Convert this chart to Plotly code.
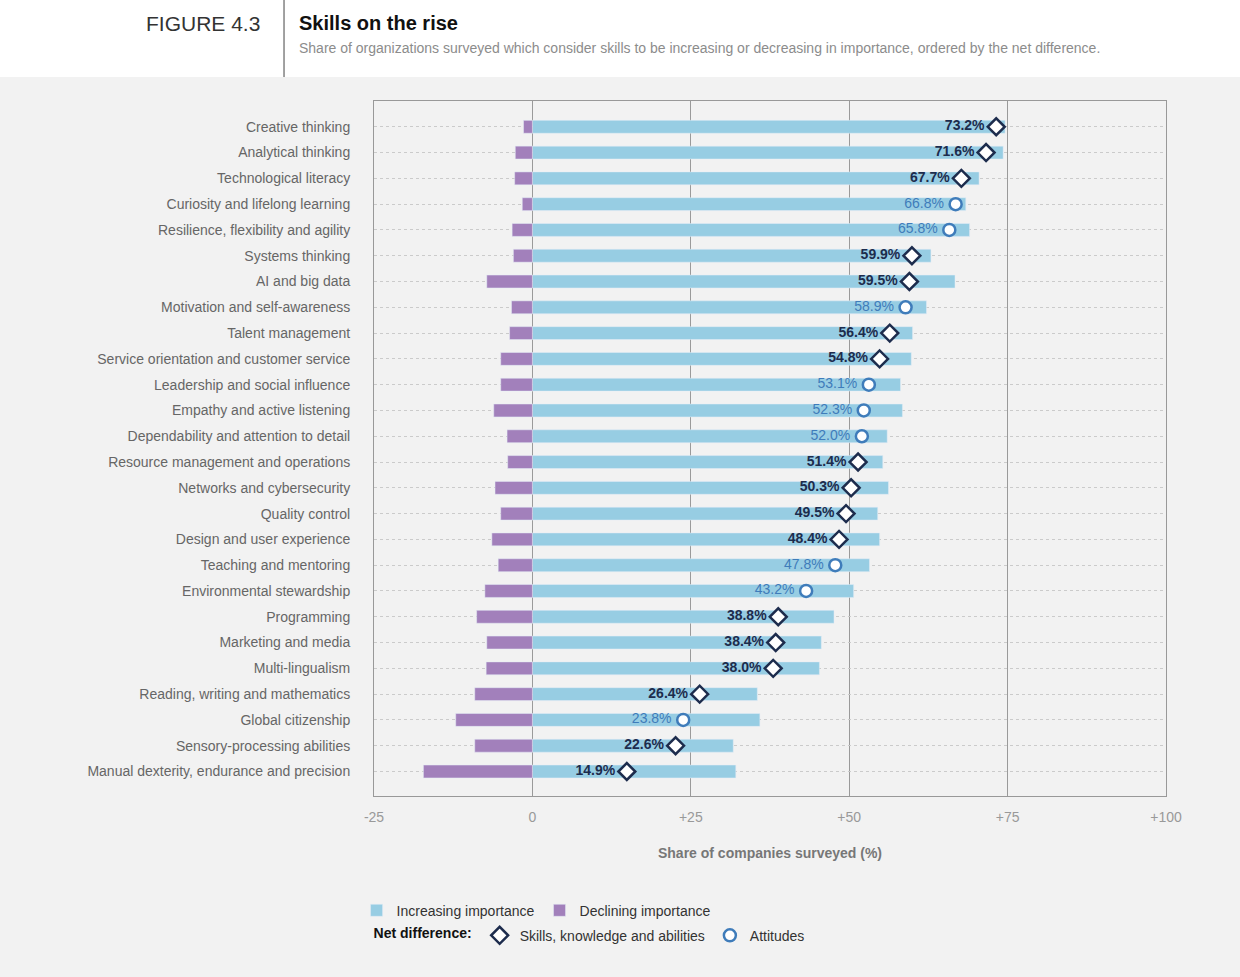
import plotly.graph_objects as go

# Data
skills = [
    "Creative thinking", "Analytical thinking", "Technological literacy",
    "Curiosity and lifelong learning", "Resilience, flexibility and agility",
    "Systems thinking", "AI and big data", "Motivation and self-awareness",
    "Talent management", "Service orientation and customer service",
    "Leadership and social influence", "Empathy and active listening",
    "Dependability and attention to detail", "Resource management and operations",
    "Networks and cybersecurity", "Quality control", "Design and user experience",
    "Teaching and mentoring", "Environmental stewardship", "Programming",
    "Marketing and media", "Multi-lingualism", "Reading, writing and mathematics",
    "Global citizenship", "Sensory-processing abilities",
    "Manual dexterity, endurance and precision",
]
increasing = [74.6, 74.3, 70.5, 68.4, 69.0, 62.9, 66.7, 62.2, 60.0, 59.8,
              58.1, 58.4, 56.0, 55.3, 56.2, 54.5, 54.8, 53.2, 50.7, 47.6,
              45.6, 45.3, 35.5, 35.9, 31.7, 32.1]
declining = [1.4, 2.7, 2.8, 1.6, 3.2, 3.0, 7.2, 3.3, 3.6, 5.0,
             5.0, 6.1, 4.0, 3.9, 5.9, 5.0, 6.4, 5.4, 7.5, 8.8,
             7.2, 7.3, 9.1, 12.1, 9.1, 17.2]
net_diff = [73.2, 71.6, 67.7, 66.8, 65.8, 59.9, 59.5, 58.9, 56.4, 54.8,
            53.1, 52.3, 52.0, 51.4, 50.3, 49.5, 48.4, 47.8, 43.2, 38.8,
            38.4, 38.0, 26.4, 23.8, 22.6, 14.9]
skill_type = ["S", "S", "S", "A", "A", "S", "S", "A", "S", "S",
              "A", "A", "A", "S", "S", "S", "S", "A", "A", "S",
              "S", "S", "S", "A", "S", "S"]
tick_vals = [-25, 0, 25, 50, 75, 100]
tick_text = ["-25", "0", "+25", "+50", "+75", "+100"]

FONT = "Liberation Sans, Arial, sans-serif"
BLUE_BAR = "#97cde3"
PURPLE_BAR = "#a280bb"
NAVY = "#1d2c4d"
MID_BLUE = "#3f7cba"

fig = go.Figure()

fig.add_trace(go.Bar(
    y=skills, x=increasing, orientation="h", name="Increasing importance",
    marker_color=BLUE_BAR, legend="legend", hoverinfo="skip",
))
fig.add_trace(go.Bar(
    y=skills, x=[-d for d in declining], orientation="h", name="Declining importance",
    marker_color=PURPLE_BAR, legend="legend", hoverinfo="skip",
))

groups = [("S", "Skills, knowledge and abilities", "diamond", NAVY, "bold"),
          ("A", "Attitudes", "circle", MID_BLUE, "normal")]
for code, label, symbol, col, weight in groups:
    ys = [s for s, t in zip(skills, skill_type) if t == code]
    xs = [v for v, t in zip(net_diff, skill_type) if t == code]
    # value labels; an invisible wide marker pushes the text away from the symbol
    fig.add_trace(go.Scatter(
        y=ys, x=xs, mode="markers+text", text=[f"{v:.1f}%" for v in xs],
        textposition="middle left",
        textfont=dict(family=FONT, size=14, color=col, weight=weight),
        marker=dict(size=17, color="rgba(0,0,0,0)", line=dict(width=0)),
        showlegend=False, hoverinfo="skip",
    ))
    fig.add_trace(go.Scatter(
        y=ys, x=xs, mode="markers", name=label, legend="legend2",
        marker=dict(symbol=symbol, size=13 if symbol == "diamond" else 12,
                    color="white", line=dict(color=col, width=2.5)),
        hoverinfo="skip",
    ))

# header band
fig.add_shape(type="rect", xref="paper", yref="paper",
              x0=-0.48, x1=1.1, y0=1.0345, y1=1.16,
              fillcolor="white", line_width=0, layer="below")
fig.add_shape(type="line", xref="paper", yref="paper",
              x0=-0.1136, x1=-0.1136, y0=1.0345, y1=1.16,
              line=dict(color="#444", width=1))

fig.add_annotation(text="FIGURE 4.3", xref="paper", yref="paper",
                   x=-0.1414, y=1.1122, xanchor="right", yanchor="middle",
                   showarrow=False, font=dict(family=FONT, size=21, color="#333"))
fig.add_annotation(text="<b>Skills on the rise</b>", xref="paper", yref="paper",
                   x=-0.0972, y=1.1122, xanchor="left", yanchor="middle",
                   showarrow=False, font=dict(family=FONT, size=20, color="#111"))
fig.add_annotation(text="Share of organizations surveyed which consider skills to be increasing "
                        "or decreasing in importance, ordered by the net difference.",
                   xref="paper", yref="paper", x=-0.0972, y=1.0763,
                   xanchor="left", yanchor="middle", showarrow=False,
                   font=dict(family=FONT, size=14, color="#8c8c8c"))

fig.update_layout(
    width=1240, height=977,
    margin=dict(l=374, r=74, t=101, b=181),
    paper_bgcolor="#f2f2f2", plot_bgcolor="#f2f2f2",
    barmode="overlay", bargap=0.5,
    font=dict(family=FONT, size=14, color="#666"),
    xaxis=dict(
        range=[-25, 100], tickvals=tick_vals, ticktext=tick_text,
        showgrid=True, gridcolor="#9a9a9a", gridwidth=1, zeroline=False,
        showline=True, mirror=True, linecolor="#999", linewidth=1,
        tickfont=dict(size=14, color="#999"), ticklabelstandoff=8,
        title=dict(text="<b>Share of companies surveyed (%)</b>", standoff=24,
                   font=dict(size=14, color="#777")),
    ),
    yaxis=dict(
        type="category", range=[25.95, -1.0],
        showgrid=True, gridcolor="#cbcbcb", griddash="dot", gridwidth=1,
        showline=True, mirror=True, linecolor="#999", linewidth=1,
        tickfont=dict(size=14, color="#666"), ticklabelstandoff=20,
    ),
    legend=dict(orientation="h", x=-0.022, xanchor="left", y=-0.142, yanchor="top",
                font=dict(size=14, color="#333"), bgcolor="rgba(0,0,0,0)",
                itemwidth=30, tracegroupgap=0),
    legend2=dict(orientation="h", x=-0.003, xanchor="left", y=-0.178, yanchor="top",
                 font=dict(size=14, color="#333"), bgcolor="rgba(0,0,0,0)",
                 title=dict(text="<b>Net difference:</b>", side="left",
                            font=dict(size=14, color="#111"))),
)

fig.write_html("out.html", config={"displayModeBar": False},
               post_script="document.body.style.margin='0px';")
